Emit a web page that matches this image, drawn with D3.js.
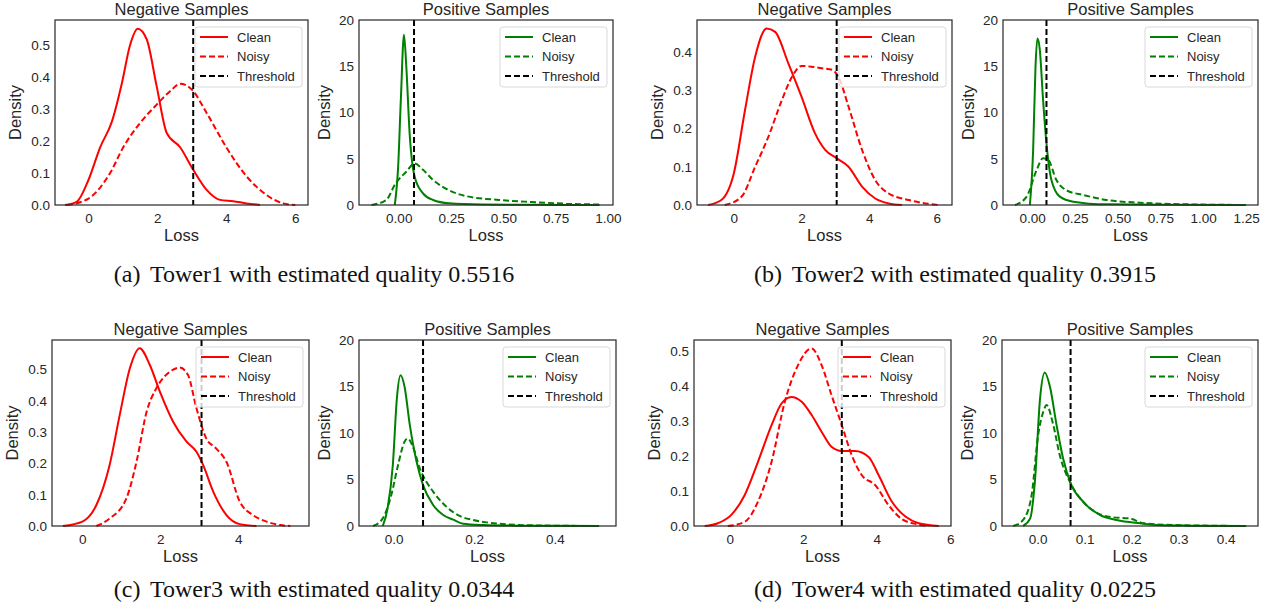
<!DOCTYPE html>
<head>
    <meta charset="utf-8">
    <style>
        body { margin: 0; background: #fff; }
        text { font-family: "Liberation Sans", Arial, sans-serif; fill: #262626; }
        .cap { font-family: "Liberation Serif", "Times New Roman", serif; fill: #111; }
    </style>
</head>
<body>
<div id="chart-area"></div>
<script src="https://cdn.jsdelivr.net/npm/d3@7"></script>
<script>
// captions / thresholds
var towers = ["Tower1", "Tower2", "Tower3", "Tower4"]
var letters = ["a", "b", "c", "d"]
var qualities = ["0.5516", "0.3915", "0.0344", "0.0225"]
var negThresholds = [3.04, 3.04, 3.06, 3.05]
var posThresholds = [0.073, 0.084, 0.073, 0.070]

// density curves: [loss, density]
var t1NegClean = [[-0.68,0],[-0.34,0.01],[0,0.078],[0.34,0.18],[0.68,0.26],[0.97,0.38],[1.21,0.5],[1.43,0.55],[1.69,0.517],[1.98,0.37],[2.27,0.225],[2.66,0.18],[3.04,0.11],[3.43,0.047],[3.82,0.016],[4.2,0.012],[4.59,0.005],[4.98,0]]
var t1NegNoisy = [[-0.62,0],[0,0.02],[0.63,0.1],[1.01,0.18],[1.5,0.256],[1.98,0.313],[2.37,0.355],[2.66,0.378],[3.0,0.36],[3.43,0.287],[4.0,0.18],[4.59,0.089],[5.17,0.031],[5.65,0.005],[6.0,0]]
var t1PosClean = [[-0.019,0],[-0.003,4.1],[0.01,11.4],[0.025,18.4],[0.036,15],[0.052,7.75],[0.076,3.06],[0.116,1.26],[0.164,0.54],[0.24,0.18],[0.4,0.05],[0.64,0.02],[0.96,0]]
var t1PosNoisy = [[-0.13,0],[-0.06,0.54],[-0.015,2.34],[0.036,3.6],[0.076,4.5],[0.116,3.8],[0.164,2.7],[0.24,1.6],[0.32,0.97],[0.48,0.54],[0.64,0.32],[0.8,0.14],[0.96,0.05]]

var t2NegClean = [[-0.76,0],[-0.37,0.013],[0,0.083],[0.33,0.248],[0.63,0.387],[0.97,0.461],[1.22,0.452],[1.61,0.37],[2.0,0.283],[2.4,0.187],[2.7,0.144],[3.04,0.122],[3.39,0.1],[3.79,0.048],[4.18,0.017],[4.58,0.004],[4.97,0]]
var t2NegNoisy = [[-0.27,0],[0.23,0.022],[0.63,0.1],[1.02,0.178],[1.42,0.274],[1.72,0.335],[2.0,0.363],[2.3,0.361],[2.6,0.357],[2.9,0.353],[3.09,0.335],[3.39,0.257],[3.79,0.144],[4.18,0.065],[4.58,0.03],[5.17,0.013],[5.76,0.003],[6.06,0]]
var t2PosClean = [[-0.013,0],[0.006,5.9],[0.02,15],[0.031,18],[0.045,16.8],[0.064,11.4],[0.084,6.67],[0.113,2.7],[0.162,0.9],[0.24,0.36],[0.435,0.07],[0.825,0.02],[1.25,0]]
var t2PosNoisy = [[-0.1,0],[-0.032,0.9],[0.027,3.8],[0.064,5.05],[0.093,4.9],[0.142,2.7],[0.2,1.6],[0.3,1.08],[0.435,0.54],[0.63,0.25],[0.825,0.11],[1.02,0.04],[1.25,0]]

var t3NegClean = [[-0.5,0],[0,0.014],[0.36,0.067],[0.7,0.195],[0.96,0.355],[1.22,0.504],[1.47,0.568],[1.73,0.515],[1.99,0.429],[2.33,0.333],[2.67,0.27],[2.93,0.237],[3.1,0.195],[3.36,0.11],[3.7,0.035],[4.04,0.006],[4.47,0]]
var t3NegNoisy = [[0.36,0],[0.7,0.024],[1.13,0.088],[1.39,0.205],[1.65,0.365],[1.9,0.44],[2.25,0.493],[2.5,0.506],[2.71,0.483],[2.93,0.376],[3.18,0.28],[3.44,0.247],[3.7,0.205],[4.04,0.078],[4.38,0.035],[4.73,0.014],[5.08,0.003],[5.34,0]]
var t3PosClean = [[-0.027,0],[-0.015,1.9],[-0.002,6.56],[0.008,13.7],[0.017,16.2],[0.027,15],[0.04,10.9],[0.057,6.9],[0.073,4.4],[0.098,2.26],[0.123,1.18],[0.148,0.68],[0.172,0.25],[0.222,0.11],[0.305,0.04],[0.51,0]]
var t3PosNoisy = [[-0.051,0],[-0.027,0.82],[-0.006,3.3],[0.011,6.56],[0.027,9.07],[0.035,9.4],[0.048,8.5],[0.065,6.2],[0.098,3.7],[0.131,2.08],[0.164,1.08],[0.197,0.65],[0.23,0.39],[0.28,0.18],[0.346,0.07],[0.51,0]]

var t4NegClean = [[-0.68,0],[-0.32,0.008],[0.045,0.032],[0.41,0.089],[0.77,0.184],[1.14,0.289],[1.41,0.351],[1.68,0.37],[1.96,0.356],[2.23,0.318],[2.5,0.27],[2.77,0.227],[3.05,0.215],[3.41,0.215],[3.78,0.198],[4.05,0.146],[4.41,0.07],[4.78,0.027],[5.14,0.008],[5.69,0]]
var t4NegNoisy = [[-0.05,0],[0.41,0.012],[0.77,0.07],[1.14,0.184],[1.5,0.356],[1.86,0.461],[2.23,0.509],[2.5,0.461],[2.77,0.375],[3.05,0.289],[3.32,0.203],[3.59,0.146],[3.96,0.117],[4.32,0.06],[4.68,0.02],[5.05,0.006],[5.41,0]]
var t4PosClean = [[-0.031,0],[-0.016,0.82],[-0.006,4.77],[0.005,13.7],[0.015,16.5],[0.026,15],[0.04,10.9],[0.054,7.28],[0.07,4.6],[0.097,2.6],[0.133,1.18],[0.168,0.65],[0.218,0.29],[0.253,0.11],[0.324,0.04],[0.444,0]]
var t4PosNoisy = [[-0.052,0],[-0.031,0.65],[-0.013,3.3],[0.001,9.8],[0.012,12.3],[0.019,13],[0.033,10.9],[0.047,7.6],[0.07,4.6],[0.097,2.6],[0.133,1.25],[0.161,0.93],[0.196,0.82],[0.225,0.29],[0.289,0.11],[0.444,0]]

// axis setup per panel
var negXDomains = [[-0.97, 6.37], [-1.09, 6.45], [-0.78, 5.82], [-0.97, 6.02]]
var negYMax = [0.577, 0.483, 0.594, 0.533]
var negXTicks = [[0, 2, 4, 6], [0, 2, 4, 6], [0, 2, 4], [0, 2, 4, 6]]
var negYTicks = [[0, 0.1, 0.2, 0.3, 0.4, 0.5], [0, 0.1, 0.2, 0.3, 0.4], [0, 0.1, 0.2, 0.3, 0.4, 0.5], [0, 0.1, 0.2, 0.3, 0.4, 0.5]]
var posXDomains = [[-0.19, 1.024], [-0.17, 1.32], [-0.086, 0.552], [-0.076, 0.469]]
var posXTicks = [[0, 0.25, 0.5, 0.75, 1], [0, 0.25, 0.5, 0.75, 1, 1.25], [0, 0.2, 0.4], [0, 0.1, 0.2, 0.3, 0.4]]
var posXFormat = [".2f", ".2f", ".1f", ".1f"]
var posYTicks = [0, 5, 10, 15, 20]

var negCurves = [[t1NegClean, t1NegNoisy], [t2NegClean, t2NegNoisy], [t3NegClean, t3NegNoisy], [t4NegClean, t4NegNoisy]]
var posCurves = [[t1PosClean, t1PosNoisy], [t2PosClean, t2PosNoisy], [t3PosClean, t3PosNoisy], [t4PosClean, t4PosNoisy]]

// frame boxes [left, top, width, height]
var negBoxes = [[55, 20, 253, 185], [697, 20, 255, 185], [52, 340, 257, 186], [694, 340, 257, 186]]
var posBoxes = [[359, 20, 254, 185], [1003, 20, 255, 185], [359, 340, 257, 186], [1002, 340, 256, 186]]
var capCenters = [[314, 282], [955, 282], [314, 597], [955, 597]]

var svg = d3.select("#chart-area").append("svg")
    .attr("width", 1270).attr("height", 613)

function panel(box, xDom, yMax, xTicks, yTicks, xFmt, yFmt, curves, color, thr, title, labOff) {
    var g = svg.append("g").attr("transform", `translate(${box[0]},${box[1]})`)
    var w = box[2], h = box[3]
    var x = d3.scaleLinear().domain(xDom).range([0, w])
    var y = d3.scaleLinear().domain([0, yMax]).range([h, 0])

    g.append("g").attr("transform", `translate(0,${h})`)
        .call(d3.axisBottom(x).tickValues(xTicks).tickFormat(d3.format(xFmt)).tickSize(0).tickPadding(8))
    g.append("g")
        .call(d3.axisLeft(y).tickValues(yTicks).tickFormat(d3.format(yFmt)).tickSize(0).tickPadding(5))
    g.selectAll(".domain").remove()
    g.selectAll(".tick text").style("font-size", "13.5px").style("fill", "#262626")
        .style("font-family", "'Liberation Sans', Arial, sans-serif")

    var line = d3.line().x(d => x(d[0])).y(d => y(d[1])).curve(d3.curveMonotoneX)
    g.append("path").datum(curves[0]).attr("d", line)
        .attr("fill", "none").attr("stroke", color).attr("stroke-width", 2)
    g.append("path").datum(curves[1]).attr("d", line)
        .attr("fill", "none").attr("stroke", color).attr("stroke-width", 2).attr("stroke-dasharray", "6,3")

    g.append("line").attr("x1", x(thr)).attr("x2", x(thr)).attr("y1", 0).attr("y2", h)
        .attr("stroke", "#000").attr("stroke-width", 2).attr("stroke-dasharray", "6,3")

    g.append("rect").attr("width", w).attr("height", h)
        .attr("fill", "none").attr("stroke", "#262626").attr("stroke-width", 1.2)

    g.append("text").attr("x", w / 2).attr("y", -5).attr("text-anchor", "middle")
        .style("font-size", "16.5px").text(title)
    g.append("text").attr("x", w / 2).attr("y", h + 36).attr("text-anchor", "middle")
        .style("font-size", "16.5px").text("Loss")
    g.append("text").attr("transform", `translate(${-labOff},${h / 2}) rotate(-90)`)
        .attr("text-anchor", "middle").style("font-size", "16.5px").text("Density")

    // legend
    var lw = 107, lh = 60
    var lg = g.append("g").attr("transform", `translate(${w - lw - 6},7)`)
    lg.append("rect").attr("width", lw).attr("height", lh).attr("rx", 3)
        .attr("fill", "rgba(255,255,255,0.8)").attr("stroke", "#d9d9d9").attr("stroke-width", 1)
    var items = [["Clean", color, null], ["Noisy", color, "6,3"], ["Threshold", "#000", "6,3"]]
    items.forEach((it, i) => {
        var yy = 10 + i * 19.5
        lg.append("line").attr("x1", 5).attr("x2", 33).attr("y1", yy).attr("y2", yy)
            .attr("stroke", it[1]).attr("stroke-width", 2).attr("stroke-dasharray", it[2])
        lg.append("text").attr("x", 42).attr("y", yy + 4.5).style("font-size", "13px").text(it[0])
    })
}

towers.forEach((t, i) => {
    panel(negBoxes[i], negXDomains[i], negYMax[i], negXTicks[i], negYTicks[i], "d", ".1f",
        negCurves[i], "red", negThresholds[i], "Negative Samples", 34)
    panel(posBoxes[i], posXDomains[i], 20, posXTicks[i], posYTicks, posXFormat[i], "d",
        posCurves[i], "green", posThresholds[i], "Positive Samples", 29)
    var cap = svg.append("text").attr("class", "cap")
        .attr("x", capCenters[i][0]).attr("y", capCenters[i][1]).attr("text-anchor", "middle")
        .style("font-size", "24px")
    cap.append("tspan").text(`(${letters[i]})`)
    cap.append("tspan").attr("dx", 4).text(` ${t} with estimated quality ${qualities[i]}`)
})
</script>
</body>
